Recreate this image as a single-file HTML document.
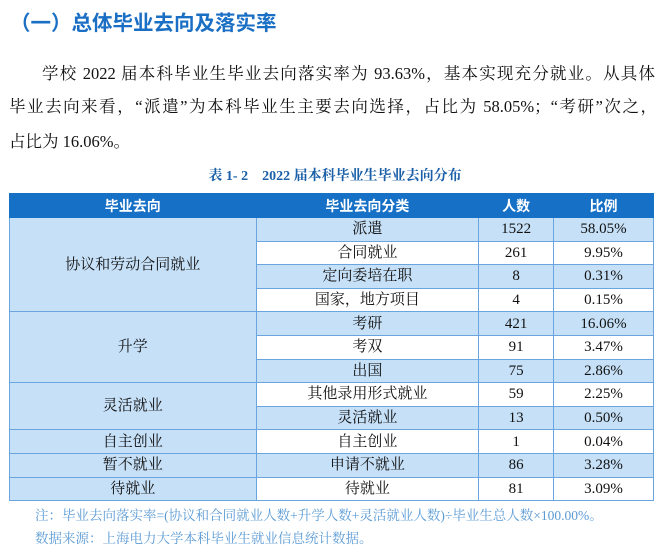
<!DOCTYPE html>
<html><head><meta charset="utf-8"><style>
body{margin:0;width:670px;height:553px;background:#fff;position:relative;overflow:hidden;font-family:"Liberation Serif","Noto Serif CJK SC",serif;}
.t{position:absolute;left:10px;top:6px;font-family:"Liberation Sans","Noto Sans CJK SC",sans-serif;font-weight:bold;font-size:20.5px;color:#1a6fc4;}
.l{position:absolute;left:9px;width:648px;font-size:16.5px;color:#111;text-align:justify;text-align-last:justify;white-space:nowrap}
.cap{position:absolute;left:0;width:670px;top:165px;text-align:center;font-weight:bold;font-size:14px;color:#1a5fa8;}
table{position:absolute;left:9px;top:193px;width:645px;border-collapse:collapse;font-size:15px;color:#111;}
td,th{border:1.5px solid #6aa5e0;text-align:center;padding:0;height:22.6px;line-height:22px}
th{background:#1670c6;color:#fff;height:23px;font-family:"Liberation Sans","Noto Sans CJK SC",sans-serif;font-size:14px;border-color:#1670c6}
.b{background:#c6e0f7}
.n{position:absolute;left:35px;font-size:13.5px;color:#5b9bd5}
</style></head><body>
<div class="t">（一）总体毕业去向及落实率</div>
<div class="l" style="top:60px;left:42px;width:613px">学校 2022 届本科毕业生毕业去向落实率为 93.63%，基本实现充分就业。从具体</div>
<div class="l" style="top:93px">毕业去向来看，“派遣”为本科毕业生主要去向选择，占比为 58.05%；“考研”次之，</div>
<div class="l" style="top:128px;text-align-last:left">占比为 16.06%。</div>
<div class="cap">表 1- 2&nbsp;&nbsp;&nbsp; 2022 届本科毕业生毕业去向分布</div>
<table>
<colgroup><col style="width:247px"><col style="width:223px"><col style="width:75px"><col style="width:100px"></colgroup>
<tr><th>毕业去向</th><th>毕业去向分类</th><th>人数</th><th>比例</th></tr>
<tr><td class="b" rowspan="4">协议和劳动合同就业</td><td class="b">派遣</td><td class="b">1522</td><td class="b">58.05%</td></tr>
<tr><td>合同就业</td><td>261</td><td>9.95%</td></tr>
<tr><td class="b">定向委培在职</td><td class="b">8</td><td class="b">0.31%</td></tr>
<tr><td>国家，地方项目</td><td>4</td><td>0.15%</td></tr>
<tr><td class="b" rowspan="3">升学</td><td class="b">考研</td><td class="b">421</td><td class="b">16.06%</td></tr>
<tr><td>考双</td><td>91</td><td>3.47%</td></tr>
<tr><td class="b">出国</td><td class="b">75</td><td class="b">2.86%</td></tr>
<tr><td class="b" rowspan="2">灵活就业</td><td>其他录用形式就业</td><td>59</td><td>2.25%</td></tr>
<tr><td class="b">灵活就业</td><td class="b">13</td><td class="b">0.50%</td></tr>
<tr><td class="b">自主创业</td><td>自主创业</td><td>1</td><td>0.04%</td></tr>
<tr><td class="b">暂不就业</td><td class="b">申请不就业</td><td class="b">86</td><td class="b">3.28%</td></tr>
<tr><td class="b">待就业</td><td>待就业</td><td>81</td><td>3.09%</td></tr>
</table>
<div class="n" style="top:504px">注：毕业去向落实率=(协议和合同就业人数+升学人数+灵活就业人数)÷毕业生总人数×100.00%。</div>
<div class="n" style="top:527px">数据来源：上海电力大学本科毕业生就业信息统计数据。</div>
</body></html>
